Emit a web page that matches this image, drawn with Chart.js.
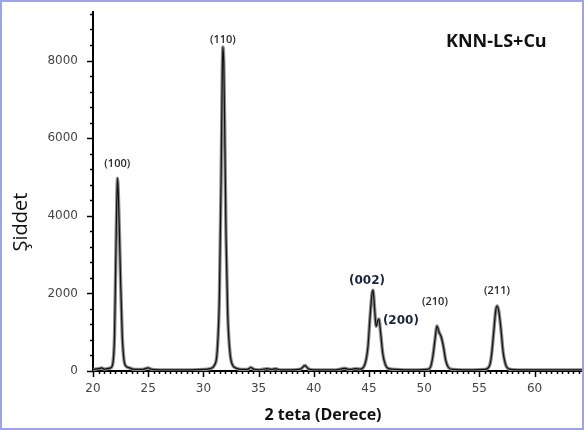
<!DOCTYPE html>
<html>
<head>
<meta charset="utf-8">
<script src="https://cdn.jsdelivr.net/npm/chart.js@4"></script>
<style>
	html, body { margin: 0; padding: 0; background: #fff; }
	#wrap { position: relative; width: 584px; height: 430px; box-sizing: border-box; border: 2px solid #9ea2e6; }
	canvas { display: block; }
</style>
</head>
<body>
<div id="wrap"><canvas id="xrdChart" width="580" height="426"></canvas></div>
<script>
// XRD pattern of KNN-LS+Cu
const twoTheta = [
	20.0, 20.5, 20.8, 21.0, 21.3, 21.6, 21.8, 21.95, 22.05, 22.15, 22.22, 22.3, 22.4, 22.5, 22.65, 22.8, 23.0, 23.3, 23.6, 24.0, 24.5,
	25.0, 25.3, 26.0, 27.0, 28.0, 29.0, 30.0, 30.6, 31.0, 31.25, 31.45, 31.6, 31.7, 31.76, 31.85, 31.95, 32.05, 32.2, 32.4, 32.6, 33.0, 33.5,
	34.0, 34.3, 34.6, 35.0, 35.8, 36.2, 36.5, 37.0, 38.0, 38.8, 39.2, 39.5, 40.0, 41.0, 42.0, 42.8, 43.2, 43.8, 44.2,
	44.6, 44.9, 45.1, 45.28, 45.37, 45.5, 45.65, 45.8, 45.9, 46.05, 46.25, 46.5, 46.8, 47.5, 48.5, 49.5,
	50.3, 50.6, 50.8, 51.0, 51.16, 51.35, 51.55, 51.75, 51.95, 52.2, 52.6, 53.5, 54.5, 55.5,
	55.9, 56.1, 56.3, 56.48, 56.6, 56.75, 56.95, 57.15, 57.4, 57.7, 58.5, 60.0, 62.0, 64.3
];
const intensity = [
	40, 60, 80, 50, 60, 80, 200, 900, 2600, 4300, 4970, 4500, 3500, 2300, 900, 300, 120, 80, 50, 40, 40,
	80, 40, 30, 30, 30, 30, 40, 60, 150, 500, 1900, 4800, 7400, 8350, 7900, 5800, 3500, 1500, 500, 180, 70, 40,
	40, 90, 40, 30, 60, 40, 60, 30, 30, 50, 140, 60, 30, 30, 30, 70, 40, 60, 50,
	150, 600, 1400, 2000, 2085, 1650, 1150, 1300, 1340, 1000, 450, 150, 60, 40, 30, 30,
	40, 120, 400, 850, 1160, 1000, 875, 620, 280, 90, 40, 30, 30, 40,
	120, 400, 1000, 1550, 1675, 1560, 1100, 500, 150, 50, 30, 30, 30, 30
];

// Peak labels (Miller indices)
const peakNames = ['(100)', '(110)', '(002)', '(200)', '(210)', '(211)'];
const peakX = [22.2, 31.76, 45.37, 45.9, 51.16, 56.6];
const peakY = [4970, 8350, 2085, 1340, 1160, 1675];
const peakBold = [false, false, true, true, false, false];

// Axis ticks
const xLabels = [20, 25, 30, 35, 40, 45, 50, 55, 60];
const yLabels = [0, 2000, 4000, 6000, 8000];

const points = twoTheta.map((t, i) => ({ x: t, y: intensity[i] }));

// Draw minor/major tick marks, peak names and the titles
const decorPlugin = {
	id: 'decor',
	afterDraw(chart) {
		const ctx = chart.ctx;
		const xs = chart.scales.x;
		const ys = chart.scales.y;
		const area = chart.chartArea;
		ctx.save();
		ctx.strokeStyle = '#000';
		ctx.lineWidth = 1.5;
		// x ticks
		for (let v = 20; v <= 64; v += 0.5) {
			const px = Math.round(xs.getPixelForValue(v)) + 0.5;
			const major = Math.abs(v % 5) < 1e-6;
			ctx.beginPath();
			ctx.moveTo(px, area.bottom);
			ctx.lineTo(px, area.bottom + (major ? 6 : 3));
			ctx.stroke();
		}
		// y ticks
		for (let v = 0; v <= 9200; v += 400) {
			const py = Math.round(ys.getPixelForValue(v)) + 0.5;
			const major = v % 2000 === 0;
			ctx.beginPath();
			ctx.moveTo(area.left, py);
			ctx.lineTo(area.left - (major ? 6 : 3), py);
			ctx.stroke();
		}
		// peak names
		ctx.textAlign = 'center';
		ctx.textBaseline = 'bottom';
		const offs = [[0, -9], [0, -2], [-6, -3], [22, 8], [-2, -19], [0, -10]];
		peakNames.forEach((name, i) => {
			ctx.font = peakBold[i] ? 'bold 12px "DejaVu Sans"' : '600 11px "Open Sans"';
			ctx.fillStyle = peakBold[i] ? '#1b2440' : '#2a2a2a';
			ctx.fillText(name, xs.getPixelForValue(peakX[i]) + offs[i][0], ys.getPixelForValue(peakY[i]) + offs[i][1]);
		});
		// sample name
		ctx.font = 'bold 18px "Open Sans"';
		ctx.fillStyle = '#111';
		ctx.textAlign = 'left';
		ctx.textBaseline = 'middle';
		ctx.fillText('KNN-LS+Cu', 444, 40);
		// axis titles
		ctx.font = 'bold 16px "Open Sans"';
		ctx.textAlign = 'center';
		ctx.fillText('2 teta (Derece)', 321, 413);
		ctx.translate(19, 220);
		ctx.rotate(-Math.PI / 2);
		ctx.font = '20px "Open Sans"';
		ctx.fillText('Şiddet', 0, 0);
		ctx.restore();
	}
};

new Chart(document.getElementById('xrdChart'), {
	type: 'line',
	data: {
		datasets: [{
			data: points,
			borderColor: '#8c8c8c',
			borderWidth: 3.4,
			pointRadius: 0,
			order: 2,
			cubicInterpolationMode: 'monotone'
		}, {
			data: points,
			borderColor: '#111',
			borderWidth: 1.2,
			pointRadius: 0,
			order: 1,
			cubicInterpolationMode: 'monotone'
		}]
	},
	options: {
		responsive: false,
		animation: false,
		layout: { padding: { top: 10, right: 0, left: 0, bottom: 0 } },
		plugins: { legend: { display: false }, tooltip: { enabled: false } },
		scales: {
			x: {
				type: 'linear',
				min: 20,
				max: 64.3,
				afterFit: s => { s.height = 426 - 369; s.paddingLeft = 0; s.paddingRight = 0; },
				afterBuildTicks: s => { s.ticks = xLabels.map(v => ({ value: v })); },
				grid: { display: false, drawTicks: false },
				border: { display: true, color: '#000', width: 2 },
				ticks: { padding: 11, color: '#444', font: { family: 'DejaVu Sans', size: 12 }, maxRotation: 0, callback: v => String(v) }
			},
			y: {
				min: 0,
				max: 9250,
				afterFit: s => { s.width = 91; s.paddingTop = 0; s.paddingBottom = 0; },
				afterBuildTicks: s => { s.ticks = yLabels.map(v => ({ value: v })); },
				grid: { display: false, drawTicks: false },
				border: { display: true, color: '#000', width: 2 },
				ticks: { padding: 15, color: '#444', font: { family: 'DejaVu Sans', size: 12 }, callback: v => String(v) }
			}
		}
	},
	plugins: [decorPlugin]
});
</script>
</body>
</html>
